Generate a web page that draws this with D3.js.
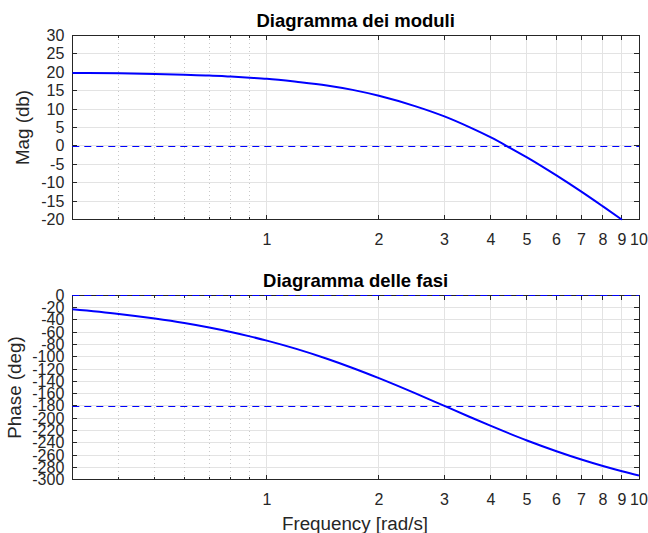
<!DOCTYPE html>
<html>
<head>
<meta charset="utf-8">
<script src="https://cdn.jsdelivr.net/npm/d3@7"></script>
<style>
  body { margin: 0; background: #fff; }
  text { font-family: "Liberation Sans", Arial, sans-serif; fill: #262626; }
</style>
</head>
<body>
<div id="chart"></div>
<script>
// frequency response, values
const magFreq = [0.3, 0.4, 0.5, 0.6, 0.7, 0.8, 0.9, 1, 1.2, 1.45, 1.7, 2, 2.5, 3, 3.5, 4, 4.5, 5, 6, 7, 8, 9];
const magDb   = [19.8, 19.7, 19.5, 19.3, 19.1, 18.8, 18.5, 18.2, 17.4, 16.4, 15.2, 13.6, 10.8, 8.0, 5.1, 2.3, -0.5, -3.1, -8.0, -12.4, -16.4, -20];

const phFreq = [0.3, 0.4, 0.5, 0.6, 0.7, 0.8, 0.9, 1, 1.2, 1.45, 1.7, 2, 2.5, 3, 3.5, 4, 5, 6, 7, 8, 9, 10];
const phDeg  = [-22.8, -30.4, -37.9, -45.2, -52.5, -59.7, -66.8, -73.7, -87.2, -103.2, -118.2, -134.8, -159.2, -180, -197.6, -212.5, -236.2, -253.7, -267.2, -277.8, -286.3, -293.2];

const xTicks = [1, 2, 3, 4, 5, 6, 7, 8, 9, 10];
const xMinor = [0.4, 0.5, 0.6, 0.7, 0.8, 0.9];
const magTicks = [30, 25, 20, 15, 10, 5, 0, -5, -10, -15, -20];
const phTicks = d3.range(0, -301, -20);

const width = 648, height = 533;
const svg = d3.select("#chart").append("svg")
  .attr("width", width)
  .attr("height", height);

const x = d3.scaleLog().domain([0.3, 10]).range([72.3, 639]);

function panel(top, bottom, yDomain, yTicks, freqs, vals, dashes, title, ylabel, ylabelX, clipId) {
  const y = d3.scaleLinear().domain(yDomain).range([bottom, top]);
  const g = svg.append("g");
  const L = x.range()[0], R = x.range()[1];

  // grid
  g.selectAll(".hgrid").data(yTicks).enter().append("line")
    .attr("x1", L).attr("x2", R)
    .attr("y1", d => y(d)).attr("y2", d => y(d))
    .attr("stroke", "#e3e3e3").attr("stroke-width", 1)
    .attr("shape-rendering", "crispEdges");
  g.selectAll(".vminor").data(xMinor).enter().append("line")
    .attr("x1", d => x(d)).attr("x2", d => x(d))
    .attr("y1", top).attr("y2", bottom)
    .attr("stroke", "#c8c8c8").attr("stroke-width", 1)
    .attr("stroke-dasharray", "1,3")
    .attr("shape-rendering", "crispEdges");
  g.selectAll(".vgrid").data(xTicks).enter().append("line")
    .attr("x1", d => x(d)).attr("x2", d => x(d))
    .attr("y1", top).attr("y2", bottom)
    .attr("stroke", "#e3e3e3").attr("stroke-width", 1)
    .attr("shape-rendering", "crispEdges");

  svg.append("clipPath").attr("id", clipId).append("rect")
    .attr("x", L).attr("y", top - 1)
    .attr("width", R - L).attr("height", bottom - top + 2);

  // box
  g.append("rect")
    .attr("x", L).attr("y", top)
    .attr("width", R - L).attr("height", bottom - top)
    .attr("fill", "none").attr("stroke", "#262626").attr("stroke-width", 1)
    .attr("shape-rendering", "crispEdges");

  // ticks, inward on all sides
  const tk = (x1, x2, y1, y2) => g.append("line")
    .attr("x1", x1).attr("x2", x2).attr("y1", y1).attr("y2", y2)
    .attr("stroke", "#262626").attr("shape-rendering", "crispEdges");
  yTicks.forEach(d => { tk(L, L + 5, y(d), y(d)); tk(R, R - 5, y(d), y(d)); });
  xTicks.forEach(d => { tk(x(d), x(d), bottom, bottom - 5); tk(x(d), x(d), top, top + 5); });
  xMinor.forEach(d => { tk(x(d), x(d), bottom, bottom - 3); tk(x(d), x(d), top, top + 3); });

  // reference lines
  g.selectAll(".ref").data(dashes).enter().append("line")
    .attr("x1", L).attr("x2", R)
    .attr("y1", d => Math.round(y(d)) + 0.5).attr("y2", d => Math.round(y(d)) + 0.5)
    .attr("stroke", "#0000ff").attr("stroke-width", 1.2)
    .attr("stroke-dasharray", "7,5");

  const line = d3.line()
    .x(d => x(d[0]))
    .y(d => y(d[1]))
    .curve(d3.curveMonotoneX);
  g.append("g").attr("clip-path", "url(#" + clipId + ")")
    .append("path")
    .datum(freqs.map((f, i) => [f, vals[i]]))
    .attr("d", line)
    .attr("fill", "none")
    .attr("stroke", "#0000ff")
    .attr("stroke-width", 2);

  // labels
  g.selectAll(".ylab").data(yTicks).enter().append("text")
    .attr("x", L - 8).attr("y", d => y(d) + 5.5)
    .attr("text-anchor", "end")
    .style("font-size", "16px")
    .text(d => d);
  g.selectAll(".xlab").data(xTicks).enter().append("text")
    .attr("x", d => x(d)).attr("y", bottom + 25)
    .attr("text-anchor", "middle")
    .style("font-size", "16px")
    .text(d => d);

  g.append("text")
    .attr("x", (L + R) / 2).attr("y", top - 8.6)
    .attr("text-anchor", "middle")
    .style("font-size", "18.5px").style("font-weight", "bold")
    .style("fill", "#000")
    .text(title);

  g.append("text")
    .attr("transform", "translate(" + ylabelX + "," + ((top + bottom) / 2) + ") rotate(-90)")
    .attr("text-anchor", "middle")
    .style("font-size", "18.8px")
    .text(ylabel);

  return y;
}

panel(35.3, 219.7, [-20, 30], magTicks, magFreq, magDb, [0], "Diagramma dei moduli", "Mag (db)", 29, "clipMag");
panel(295.3, 479.7, [-300, 0], phTicks, phFreq, phDeg, [0, -180], "Diagramma delle fasi", "Phase (deg)", 21, "clipPh");

svg.append("text")
  .attr("x", 355).attr("y", 530)
  .attr("text-anchor", "middle")
  .style("font-size", "18.8px")
  .text("Frequency [rad/s]");
</script>
</body>
</html>
